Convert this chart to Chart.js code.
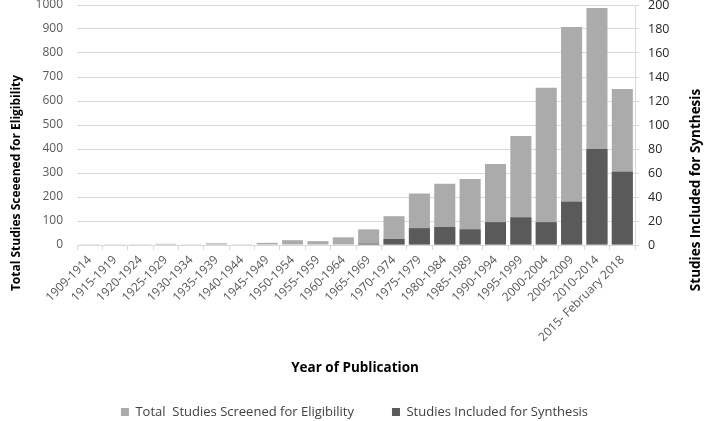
<!DOCTYPE html>
<html>
<head>
<meta charset="utf-8">
<script src="https://cdn.jsdelivr.net/npm/chart.js@4.4.1/dist/chart.umd.min.js"></script>
<style>
  html, body { margin: 0; padding: 0; background: #fff; }
  #wrap { width: 709px; height: 421px; position: relative; }
</style>
</head>
<body>
<div id="wrap"><canvas id="chart"></canvas></div>
<script>
// DATA
const periods = ['1909-1914', '1915-1919', '1920-1924', '1925-1929', '1930-1934', '1935-1939',
  '1940-1944', '1945-1949', '1950-1954', '1955-1959', '1960-1964', '1965-1969', '1970-1974',
  '1975-1979', '1980-1984', '1985-1989', '1990-1994', '1995-1999', '2000-2004', '2005-2009',
  '2010-2014', '2015- February 2018'];
const totalScreened = [1, 1, 1, 5, 1, 7, 1, 9, 20, 16, 32, 65, 120, 215, 255, 275, 337, 454, 655, 908, 988, 650];
const includedSynthesis = [0, 0, 0, 0, 0, 0, 0, 0, 0, 0, 0, 1, 5, 14, 15, 13, 19, 23, 19, 36, 80, 61];
const leftTitle = 'Total Studies Sceeened for Eligibility';
const rightTitle = 'Studies Included for Synthesis';
const xTitle = 'Year of Publication';

const FONT = "'Open Sans', sans-serif";
const gridColor = '#d9d9d9';
const LEGEND_PAD = 38;
const LEGEND_FONT = 13;

// axis titles drawn by hand so they sit where the original puts them
function drawTitle(ctx, text, x, y, size, rotate) {
  ctx.save();
  ctx.fillStyle = '#000';
  ctx.font = 'bold ' + size + 'px ' + FONT;
  ctx.textAlign = 'center';
  ctx.textBaseline = 'middle';
  ctx.translate(x, y);
  if (rotate) ctx.rotate(-Math.PI / 2);
  ctx.fillText(text, 0, 0);
  ctx.restore();
}

const axisTitles = {
  id: 'axisTitles',
  afterDraw(chart) {
    const ctx = chart.ctx;
    drawTitle(ctx, xTitle, 355, 368, 13.5, false);
    drawTitle(ctx, leftTitle, 17, 183, 12, true);
    drawTitle(ctx, rightTitle, 696, 190, 13.5, true);
  }
};

// move the legend row down to where the original has it
const legendShift = {
  id: 'legendShift',
  afterLayout(chart) {
    const lg = chart.legend;
    const dy = 412 - (lg.top + LEGEND_PAD + LEGEND_FONT / 2);
    lg.top += dy; lg.bottom += dy;
  }
};

function noPad(s) {
  s.paddingTop = 0; s.paddingBottom = 0;
  s.paddingLeft = 0; s.paddingRight = 0;
}

new Chart(document.getElementById('chart'), {
  type: 'bar',
  data: {
    labels: periods,
    datasets: [
      {
        label: 'Total  Studies Screened for Eligibility',
        data: totalScreened,
        backgroundColor: '#ababab',
        yAxisID: 'y',
        order: 1,
        grouped: false,
        categoryPercentage: 1,
        barPercentage: 0.83
      },
      {
        label: 'Studies Included for Synthesis',
        data: includedSynthesis,
        backgroundColor: '#5a5a5a',
        yAxisID: 'y2',
        order: 0,
        grouped: false,
        categoryPercentage: 1,
        barPercentage: 0.83
      }
    ]
  },
  options: {
    responsive: true,
    maintainAspectRatio: false,
    animation: false,
    layout: { padding: { top: 5, left: 0, right: 0, bottom: 0 } },
    plugins: {
      tooltip: { enabled: false },
      legend: {
        position: 'bottom',
        labels: {
          boxWidth: 8,
          boxHeight: 8,
          padding: LEGEND_PAD,
          color: '#404040',
          font: { family: FONT, size: LEGEND_FONT },
          sort: (a, b) => a.datasetIndex - b.datasetIndex
        }
      }
    },
    scales: {
      x: {
        grid: {
          offset: true,
          drawOnChartArea: false,
          tickLength: 5,
          color: gridColor
        },
        border: { color: gridColor },
        ticks: {
          color: '#595959',
          font: { family: FONT, size: 12 },
          minRotation: 45,
          maxRotation: 45,
          autoSkip: false,
          padding: 3
        },
        afterFit: s => {
          s.height = 421 - 245 - s.chart.legend.height;
          noPad(s);
        }
      },
      y: {
        position: 'left',
        min: 0,
        max: 1000,
        grid: { color: gridColor, drawTicks: false },
        border: { display: false },
        ticks: {
          stepSize: 100,
          color: '#595959',
          font: { family: FONT, size: 12 },
          padding: 14,
          callback: v => String(v)
        },
        afterFit: s => { s.width = 77; noPad(s); }
      },
      y2: {
        position: 'right',
        min: 0,
        max: 200,
        grid: { drawOnChartArea: false, color: gridColor, tickLength: 4 },
        border: { color: gridColor },
        ticks: {
          stepSize: 20,
          color: '#262626',
          font: { family: FONT, size: 12.5 },
          padding: 9,
          callback: v => String(v)
        },
        afterFit: s => { s.width = 74; noPad(s); }
      }
    }
  },
  plugins: [axisTitles, legendShift]
});
</script>
</body>
</html>
